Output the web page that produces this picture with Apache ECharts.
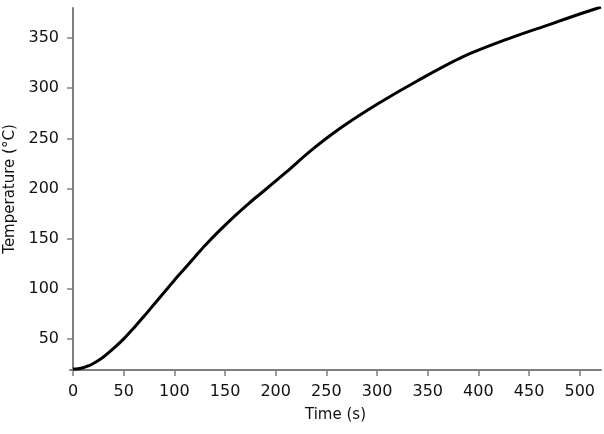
<!DOCTYPE html>
<html>
<head>
<meta charset="utf-8">
<script src="https://cdn.jsdelivr.net/npm/echarts@6/dist/echarts.min.js"></script>
<style>
    html, body { margin: 0; padding: 0; background: #fff; }
    #chart { width: 604px; height: 434px; }
</style>
</head>
<body>
<div id="chart"></div>
<script>
// values
var times = [0, 5, 10, 15, 20, 25, 30, 40, 50, 60, 70, 80, 90, 100, 110, 120, 130, 145, 160, 175, 190, 210, 235, 265, 300, 340, 385, 430, 470, 500, 521];
var temps = [20, 20.3, 21.2, 23, 25.5, 28.5, 32, 40.5, 50, 61, 72.5, 84.5, 96.5, 108.5, 120, 131.5, 143, 158.5, 173, 186.5, 199, 216, 238, 261, 284, 307.5, 331.5, 349.5, 363.5, 374, 381];
var xTicks = [0, 50, 100, 150, 200, 250, 300, 350, 400, 450, 500];
var yTicks = [50, 100, 150, 200, 250, 300, 350];

var pts = times.map(function (t, i) { return [t, temps[i]]; });
var font = 'DejaVu Sans';
var axisColor = '#7f7f7f';

var myChart = echarts.init(document.getElementById('chart'));
var option = {
    animation: false,
    grid: { left: 70, right: 3, top: 8, bottom: 64, containLabel: false, outerBoundsMode: 'none' },
    xAxis: {
        type: 'value',
        min: -3,
        max: 521,
        name: 'Time (s)',
        nameLocation: 'middle',
        nameGap: 38,
        nameTextStyle: { color: '#111', fontSize: 15, fontFamily: font },
        axisLine: { show: true, lineStyle: { color: axisColor, width: 2 } },
        axisTick: { show: true, length: 6, customValues: xTicks, lineStyle: { color: axisColor, width: 1.5 } },
        axisLabel: { customValues: xTicks, margin: 14, color: '#111', fontSize: 16, fontFamily: font },
        splitLine: { show: false }
    },
    yAxis: {
        type: 'value',
        min: 19,
        max: 380,
        name: 'Temperature (°C)',
        nameLocation: 'middle',
        nameGap: 48,
        nameTextStyle: { color: '#111', fontSize: 15, fontFamily: font },
        axisLine: { show: true, lineStyle: { color: axisColor, width: 2 } },
        axisTick: { show: true, length: 6, customValues: yTicks, lineStyle: { color: axisColor, width: 1.5 } },
        axisLabel: { customValues: yTicks, margin: 11, color: '#111', fontSize: 16, fontFamily: font },
        splitLine: { show: false }
    },
    series: [{
        type: 'line',
        data: pts,
        smooth: 0.3,
        showSymbol: false,
        lineStyle: { color: '#000', width: 3 }
    }]
};
myChart.setOption(option, true);
</script>
</body>
</html>
